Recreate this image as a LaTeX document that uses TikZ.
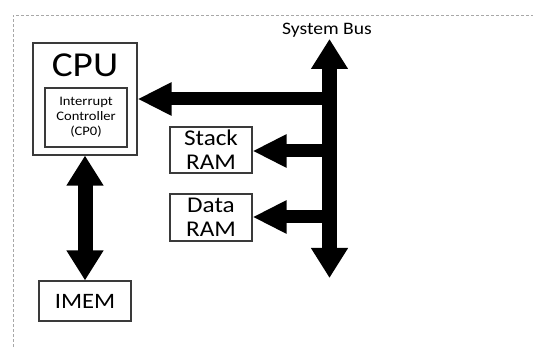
\documentclass[tikz,border=0pt]{standalone}
\usepackage{fontspec}
\setmainfont{Carlito}[FakeStretch=1.12]
\usetikzlibrary{arrows.meta}

\definecolor{boxline}{HTML}{3A3A3A}
\definecolor{frameline}{HTML}{A8A8A8}

\tikzset{
  unitbox/.style={draw=boxline, line width=1.1pt, inner sep=0pt, align=center},
  vbusboth/.style={line width=15pt, {Triangle[width=35pt,length=30pt]}-{Triangle[width=35pt,length=30pt]}},
  hbus/.style={line width=13pt, -{Triangle[width=31pt,length=34pt]}},
}

\begin{document}
\begin{tikzpicture}[x=1pt,y=-1pt]
  \useasboundingbox (0,0) rectangle (533,347);

  % dashed frame around the system
  \draw[frameline, line width=0.9pt, dash pattern=on 3pt off 2pt]
    (13,347) -- (13,15) -- (533,15);

  % CPU with its interrupt controller
  \node[unitbox, minimum width=104pt, minimum height=112pt] (cpu) at (85,99) {};
  \node[font=\fontsize{35}{38}\selectfont, inner sep=0pt] (cputitle) at (85,65) {CPU};
  \node[unitbox, minimum width=82pt, minimum height=59pt,
        font=\fontsize{13}{15}\selectfont] (ic) at (86,117.5)
        {Interrupt\\Controller\\(CP0)};

  % memories
  \node[unitbox, minimum width=82pt, minimum height=46pt,
        font=\fontsize{22.5}{24}\selectfont] (stack) at (211,150) {Stack\\RAM};
  \node[unitbox, minimum width=82pt, minimum height=47pt,
        font=\fontsize{22.5}{24}\selectfont] (data) at (211,217.5) {Data\\RAM};
  \node[unitbox, minimum width=92pt, minimum height=40pt,
        font=\fontsize{22}{24}\selectfont] (imem) at (85,301) {IMEM};

  % system bus
  \node[font=\fontsize{17.5}{19}\selectfont, inner sep=0pt] (buslabel) at (327,30) {System Bus};
  \coordinate (bustop) at (329.5,39);
  \coordinate (busbot) at (329.5,278);
  \coordinate (tapcpu) at (329.5,99);
  \coordinate (tapstack) at (329.5,151);
  \coordinate (tapdata) at (329.5,217);

  \draw[vbusboth] (busbot) -- (bustop);
  \draw[hbus] (tapcpu) -- (tapcpu -| cpu.east);
  \draw[hbus] (tapstack) -- (tapstack -| stack.east);
  \draw[hbus] (tapdata) -- (tapdata -| data.east);

  % CPU to instruction memory link
  \draw[vbusboth] (cpu.south) -- (cpu.south |- imem.north);
\end{tikzpicture}
\end{document}
